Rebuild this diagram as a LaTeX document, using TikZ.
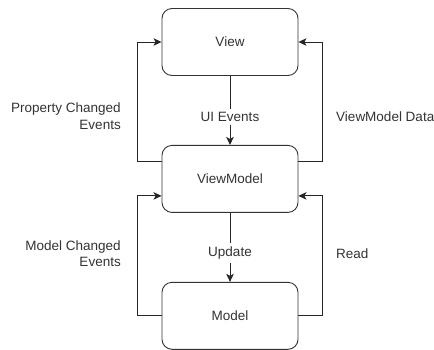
\documentclass[tikz,border=0pt]{standalone}
\usepackage{fontspec}
\setmainfont{Liberation Sans}
\usetikzlibrary{positioning, arrows.meta}
\tikzset{
    box/.style={
        draw=black!80,
        rectangle,
        rounded corners=10pt,
        minimum width=136pt,
        minimum height=67pt,
        line width=0.9pt,
        text=black!80,
    },
    flow/.style={
        draw=black!85,
        line width=0.9pt,
        -{Stealth[length=8pt, width=7.5pt, inset=2pt]},
    },
    lbl/.style={
        text=black!80,
        font=\fontsize{13.5}{16.5}\selectfont,
    }
}

\begin{document}
\begin{tikzpicture}[x=1pt, y=1pt, node distance=69pt, font=\fontsize{13.5}{16.5}\selectfont]
        \useasboundingbox (0,0) rectangle (434,-349);
        \node[box] (view) at (230,-42) {View};
        \node[box, below=of view] (vm) {ViewModel};
        \node[box, below=of vm] (model) {Model};
        \draw[flow] (view) to node[pos=0.6, fill=white, lbl] {UI Events} (vm);
        \draw[flow] (vm) to node[pos=0.58, fill=white, lbl] {Update} (model);
        \draw[flow] ([yshift=17pt]vm.west) -- ++(-24pt,0) |- node[pos=0.19, left=13pt, align=right, lbl] {Property Changed\\Events} (view.west);
        \draw[flow] ([yshift=17pt]vm.east) -- ++(24pt,0) |- node[pos=0.19, right=10pt, lbl] {ViewModel Data} (view.east);
        \draw[flow] (model.west) -- ++(-24pt,0) |- node[pos=0.26, left=13pt, align=right, lbl] {Model Changed\\Events} ([yshift=-17pt]vm.west);
        \draw[flow] (model.east) -- ++(24pt,0) |- node[pos=0.26, right=10pt, lbl] {Read} ([yshift=-17pt]vm.east);
\end{tikzpicture}
\end{document}
